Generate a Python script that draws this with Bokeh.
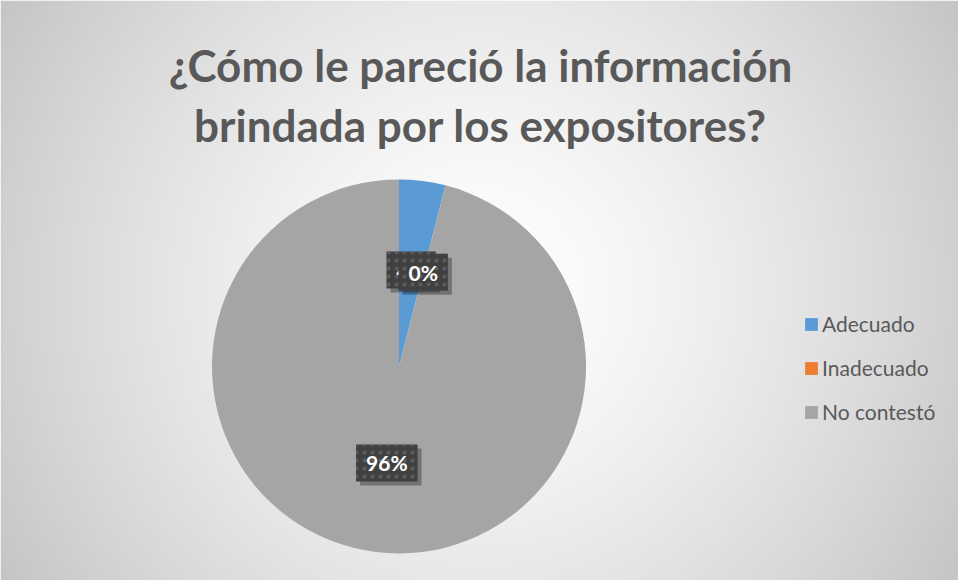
import numpy as np
from math import pi, sin, cos
from bokeh.plotting import figure
from bokeh.models import Range1d, Legend, LegendItem, ColumnDataSource, Label
from bokeh.core.properties import value
from bokeh.embed import file_html
from bokeh.resources import INLINE

# ---- data ----
categories = ["Adecuado", "Inadecuado", "No contestó"]
shares = [0.04, 0.00, 0.96]
label_texts = ["4%", "0%", "96%"]
colors = ["#5B9BD5", "#ED7D31", "#A5A5A5"]
title_lines = ["¿Cómo le pareció la información", "brindada por los expositores?"]

W, H = 958, 580
p = figure(width=W, height=H, output_backend="svg", toolbar_location=None,
           x_range=Range1d(0, W), y_range=Range1d(0, H), min_border=0)
p.axis.visible = False
p.grid.visible = False
p.outline_line_color = None
p.background_fill_color = "white"
p.border_fill_color = "white"

# background radial gradient (style only)
gw, gh = W // 2, H // 2
gx = np.linspace(0, W, gw)
gy = np.linspace(0, H, gh)
X, Y = np.meshgrid(gx, gy)
cx, cy = 479.0, 290.0
t = np.sqrt((X - cx) ** 2 + (Y - cy) ** 2) / np.sqrt(cx ** 2 + cy ** 2)
t = np.clip(t, 0, 1)
v = (255 - 58 * t ** 1.4).astype(np.uint32)
img = (255 << 24) | (v << 16) | (v << 8) | v
p.image_rgba(image=[img.astype(np.uint32)], x=0, y=0, dw=W, dh=H)

# pie
pcx, pcy, R = 398.5, 214.0, 187.0
cum = np.concatenate([[0], np.cumsum(shares)])
starts = [pi / 2 - 2 * pi * c for c in cum[:-1]]
ends = [pi / 2 - 2 * pi * c for c in cum[1:]]
radii = [R if s > 0 else 0.0 for s in shares]
src = ColumnDataSource(dict(cat=categories, start=starts, end=ends, color=colors, r=radii))
wr = p.wedge(x=pcx, y=pcy, radius="r", start_angle="start", end_angle="end",
             direction="clock", fill_color="color", line_color=None, source=src)

# data labels
mids = [(cum[i] + cum[i + 1]) / 2 for i in range(len(shares))]
lr = 0.52 * R
lx = [pcx + lr * sin(2 * pi * m) for m in mids]
ly = [pcy + lr * cos(2 * pi * m) for m in mids]
for i in range(len(lx)):
    sub = ColumnDataSource(dict(x=[lx[i]], y=[ly[i]], text=[label_texts[i]]))
    p.text(x="x", y="y", text="text", source=sub, text_align="center",
           text_baseline="middle", text_font=value("Lato"), text_font_style="bold",
           text_font_size="21px", text_color=(0, 0, 0, 0),
           background_fill_color="black", background_fill_alpha=0.3,
           padding=(10, 6), x_offset=4, y_offset=4)
    p.text(x="x", y="y", text="text", source=sub, text_align="center",
           text_baseline="middle", text_font=value("Lato"), text_font_style="bold",
           text_font_size="21px", text_color="white",
           background_fill_color="#404040", background_hatch_pattern="dot",
           background_hatch_color="#5c5c5c", background_hatch_scale=8,
           padding=(10, 6))

# legend
items = [LegendItem(label=c, renderers=[wr], index=i) for i, c in enumerate(categories)]
legend = Legend(items=items, location=(803, 156), orientation="vertical",
                glyph_width=16, glyph_height=16, label_height=16, spacing=19,
                padding=0, margin=0, label_standoff=3,
                label_text_font="Lato", label_text_font_size="21px",
                label_text_color="#595959", border_line_color=None,
                background_fill_alpha=0)
p.add_layout(legend, "center")

# title
for line, yy in zip(title_lines, [64, 124]):
    p.add_layout(Label(x=480, y=H - yy, x_units="screen", y_units="screen",
                       text=line, text_align="center", text_baseline="middle",
                       text_font="Lato", text_font_style="bold",
                       text_font_size="44px", text_color="#595959"))

open("out.html", "w").write(file_html(p, INLINE))
